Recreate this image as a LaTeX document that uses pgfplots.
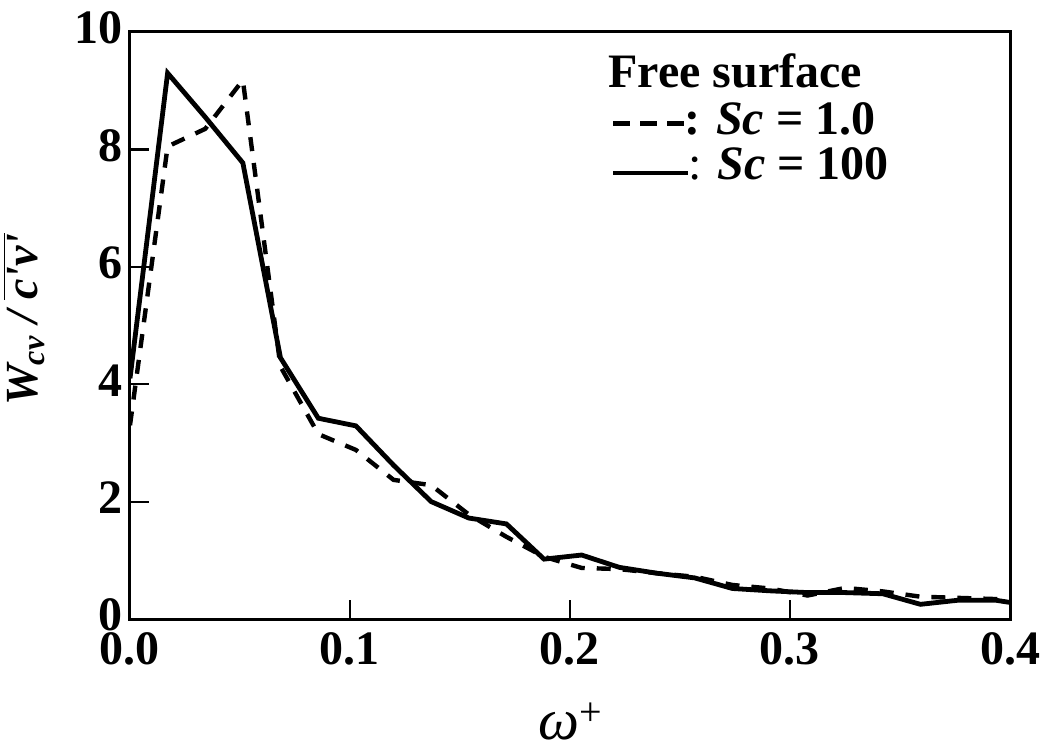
\documentclass[border=0pt]{standalone}
\usepackage{pgfplots}
\pgfplotsset{compat=1.18}
\usepackage{fontspec}
\setmainfont{Liberation Serif}
\begin{document}
\begin{tikzpicture}
\path[use as bounding box] (-65pt,-66pt) rectangle (457pt,309.5pt);
\begin{axis}[
  scale only axis,
  width=440pt, height=293.5pt,
  xmin=0, xmax=0.4, ymin=0, ymax=10,
  xtick={0,0.1,0.2,0.3,0.4},
  ytick={0,2,4,6,8,10},
  tick pos=left,
  tick align=inside,
  major tick length=9.5pt,
  every tick/.style={line width=1.1pt, black},
  axis line style={line width=1.5pt},
  /pgf/number format/assume math mode=true,
  ticklabel style={font=\fontsize{24}{24}\selectfont\bfseries, inner sep=0.5pt},
  xticklabel style={/pgf/number format/fixed, /pgf/number format/fixed zerofill, /pgf/number format/precision=1, yshift=-6pt},
  yticklabel style={xshift=-3pt, yshift=2pt},
  clip mode=individual,
  xlabel={\itshape ω\raisebox{7pt}{\upshape\fontsize{20}{20}\selectfont +}},
  xlabel style={at={(axis description cs:0.5,-0.205)}, anchor=base, inner sep=0pt, font=\fontsize{29}{29}\selectfont},
  ylabel={\bfseries\itshape W\textsubscript{cv}\kern0.25em/\kern0.25em$\overline{\hbox{\bfseries\itshape c\textquotesingle v\textquotesingle}}$},
  ylabel style={at={(axis description cs:-0.1205,0.51)}, anchor=center, font=\fontsize{23}{23}\selectfont},
]
\addplot[black, line width=2.2pt, dash pattern=on 7pt off 6pt] coordinates {
(0,3.3) (0.0171,8.05) (0.0342,8.35) (0.0513,9.18) (0.0684,4.3) (0.0856,3.15)
(0.1027,2.88) (0.1198,2.37) (0.1369,2.28) (0.1540,1.78) (0.1711,1.40) (0.1882,1.06)
(0.2053,0.87) (0.2224,0.85) (0.2395,0.78) (0.2567,0.72) (0.2738,0.58) (0.2909,0.52)
(0.3080,0.40) (0.3251,0.53) (0.3422,0.47) (0.3593,0.38) (0.3764,0.36) (0.3935,0.34)
(0.4106,0.33)
};
\addplot[black, line width=2.4pt] coordinates {
(0,4.1) (0.0171,9.30) (0.0342,8.55) (0.0513,7.77) (0.0684,4.45) (0.0856,3.42)
(0.1027,3.29) (0.1198,2.62) (0.1369,2.0) (0.1540,1.72) (0.1711,1.62) (0.1882,1.02)
(0.2053,1.09) (0.2224,0.88) (0.2395,0.78) (0.2567,0.70) (0.2738,0.52) (0.2909,0.48)
(0.3080,0.45) (0.3251,0.45) (0.3422,0.43) (0.3593,0.25) (0.3764,0.32) (0.3935,0.32)
(0.4106,0.22)
};
\node[anchor=base west, inner sep=0pt, font=\fontsize{24}{24}\selectfont\bfseries] at (axis cs:0.2173,9.063) {Free surface};
\node[anchor=base west, inner sep=0pt, font=\fontsize{24}{24}\selectfont\bfseries] at (axis cs:0.2195,8.262) {\rule[4pt]{8.5pt}{2.6pt}\kern5pt\rule[4pt]{8.5pt}{2.6pt}\kern5pt\rule[4pt]{8.5pt}{2.6pt}: \textit{Sc} = 1.0};
\node[anchor=base west, inner sep=0pt, font=\fontsize{24}{24}\selectfont\bfseries] at (axis cs:0.2195,7.479) {\rule[2.3pt]{37.5pt}{2.4pt}\textmd{:} \textit{Sc} = 100};
\end{axis}
\end{tikzpicture}
\end{document}
